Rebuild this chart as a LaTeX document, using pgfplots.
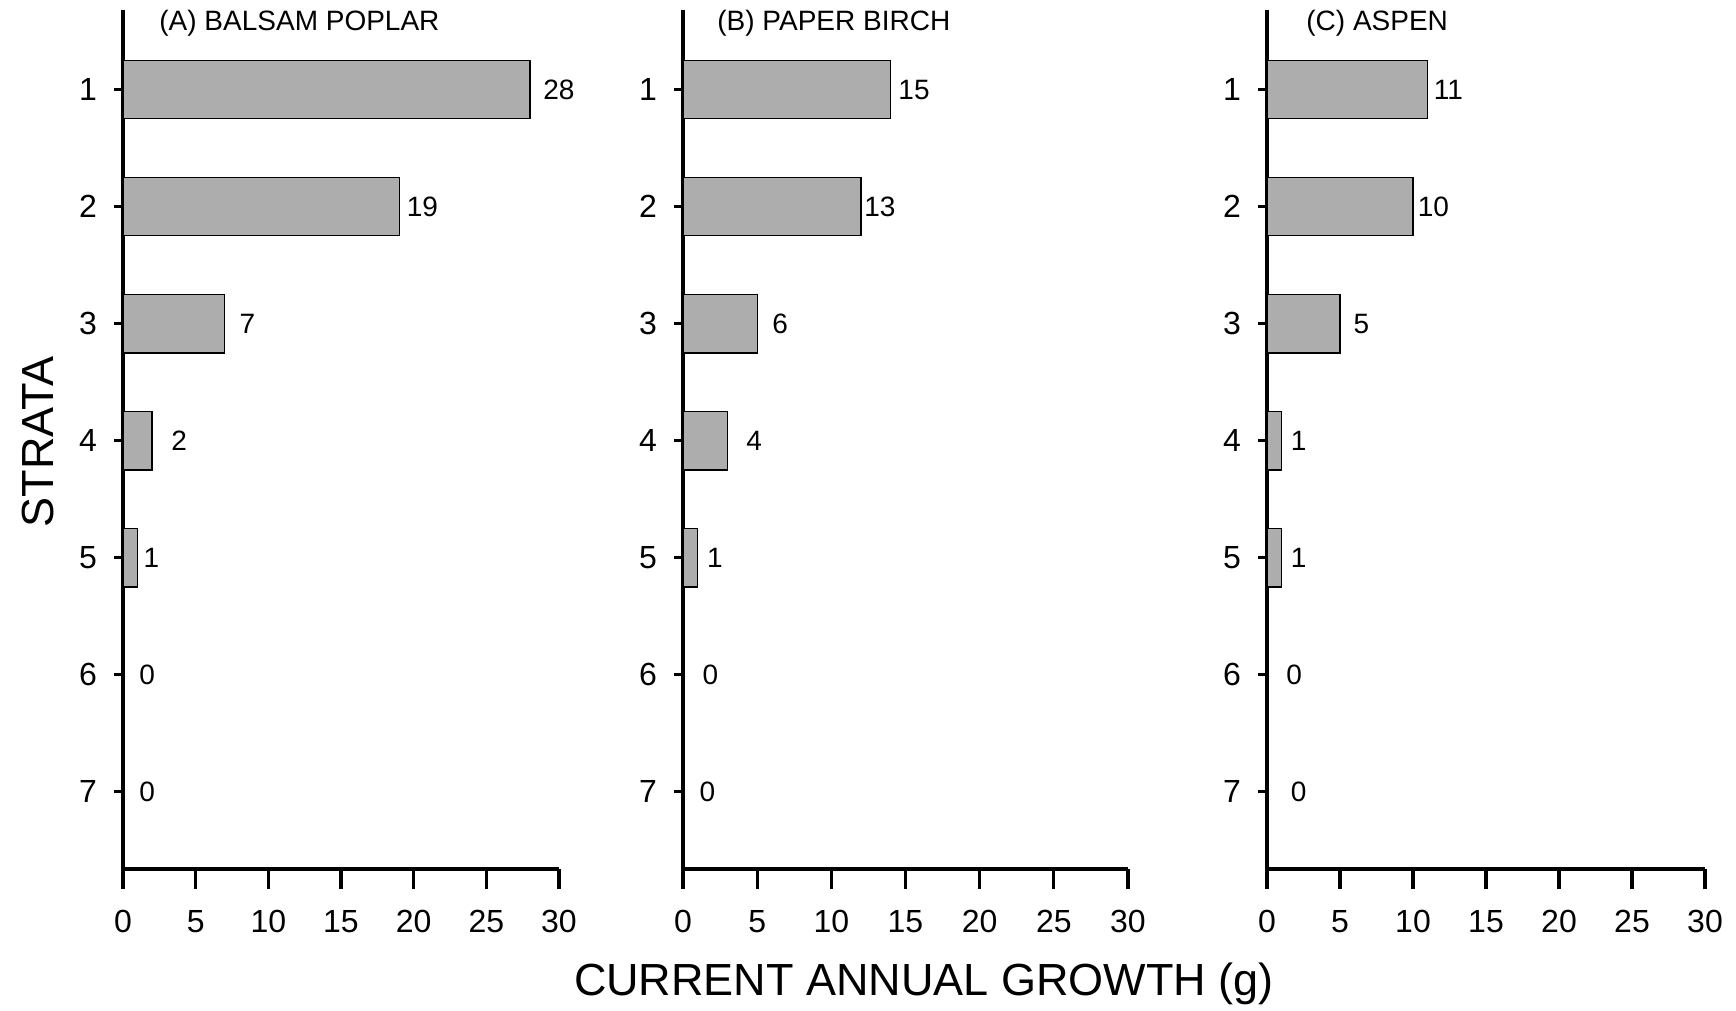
\documentclass[border=0pt]{standalone}
\usepackage{pgfplots}
\usepackage{pgfplotstable}
\pgfplotsset{compat=1.18}
\usepackage{fontspec}
\setmainfont{Liberation Sans}

\pgfplotstableread{
y x lab lx
1 28 28 28.9
2 19 19 19.5
3 7  7  8.0
4 2  2  3.3
5 1  1  1.4
6 0  0  1.1
7 0  0  1.1
}\dataA

\pgfplotstableread{
y x lab lx
1 14 15 14.5
2 12 13 12.2
3 5  6  6.0
4 3  4  4.25
5 1  1  1.6
6 0  0  1.3
7 0  0  1.1
}\dataB

\pgfplotstableread{
y x lab lx
1 11 11 11.4
2 10 10 10.3
3 5  5  5.9
4 1  1  1.6
5 1  1  1.6
6 0  0  1.3
7 0  0  1.6
}\dataC

\pgfplotsset{
  panel/.style={
    scale only axis,
    y dir=reverse,
    xmin=0, xmax=30, ymin=0.32, ymax=7.66,
    height=429.5pt,
    axis x line=bottom, axis y line=left,
    axis line style={-, line width=2pt, black},
    xtick={0,5,...,30}, ytick={1,...,7},
    minor ytick={1,...,7},
    tick align=outside,
    major tick length=10pt, minor tick length=4.5pt,
    major x tick style={line width=1.6pt, black},
    major y tick style={draw=none},
    minor y tick style={line width=1.6pt, black},
    /pgf/number format/assume math mode=true,
    xticklabel style={font=\fontsize{16}{18}\selectfont, anchor=north, inner sep=0pt, yshift=-10.5pt},
    yticklabel style={font=\fontsize{16}{18}\selectfont, anchor=east, inner sep=0pt, xshift=-2.8pt},
    clip=false,
  },
  barstyle/.style={xbar, bar width=0.5, fill=black!32, draw=black, line width=0.6pt},
  labstyle/.style={draw=none, nodes near coords, point meta=explicit symbolic,
    every node near coord/.append style={anchor=west, inner sep=0pt, font=\fontsize{14}{16}\selectfont, text=black}},
}

\begin{document}
\begin{tikzpicture}
\useasboundingbox (0,0) rectangle (868pt,505.5pt);

\begin{axis}[panel, width=218pt, at={(61.5pt,71pt)}, anchor=south west]
\addplot[barstyle] table[x=x, y=y] {\dataA};
\addplot[labstyle] table[x=lx, y=y, meta=lab] {\dataA};
\end{axis}

\begin{axis}[panel, width=222.5pt, at={(341.5pt,71pt)}, anchor=south west]
\addplot[barstyle] table[x=x, y=y] {\dataB};
\addplot[labstyle] table[x=lx, y=y, meta=lab] {\dataB};
\end{axis}

\begin{axis}[panel, width=219pt, at={(633.5pt,71pt)}, anchor=south west]
\addplot[barstyle] table[x=x, y=y] {\dataC};
\addplot[labstyle] table[x=lx, y=y, meta=lab] {\dataC};
\end{axis}

\node[anchor=west, inner sep=0pt, font=\fontsize{14}{16}\selectfont] at (79.5pt,494pt) {(A) BALSAM POPLAR};
\node[anchor=west, inner sep=0pt, font=\fontsize{14}{16}\selectfont] at (358.5pt,494pt) {(B) PAPER BIRCH};
\node[anchor=west, inner sep=0pt, font=\fontsize{14}{16}\selectfont] at (653pt,494pt) {(C) ASPEN};

\node[inner sep=0pt, font=\fontsize{22.5}{26}\selectfont] at (462pt,13.5pt) {CURRENT ANNUAL GROWTH (g)};
\node[inner sep=0pt, rotate=90, font=\fontsize{22.5}{26}\selectfont] at (19pt,284.5pt) {STRATA};
\end{tikzpicture}
\end{document}
